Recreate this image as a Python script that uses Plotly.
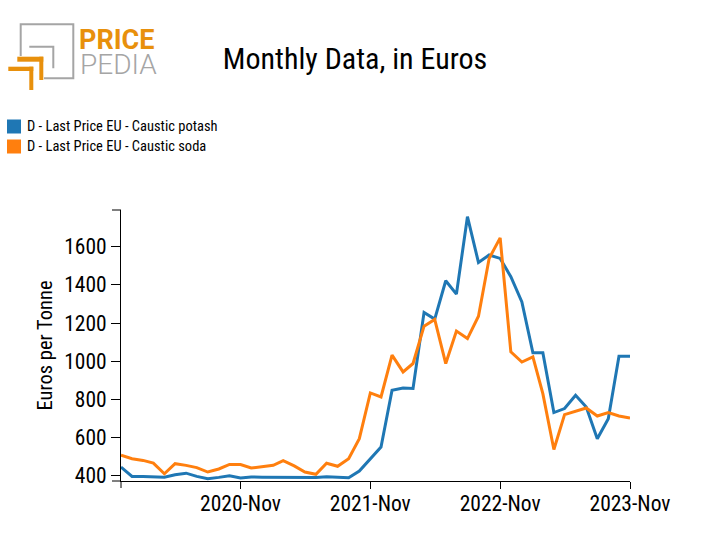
import plotly.graph_objects as go

months = [f"{y}-{m:02d}-01" for y in range(2019, 2024) for m in range(1, 13)]
months = months[months.index("2019-12-01"):months.index("2023-11-01") + 1]

potash = [445, 396, 396, 395, 392, 405, 413, 396, 384, 391, 400, 388,
          393, 392, 391, 391, 391, 391, 391, 394, 392, 389, 424, 489,
          550, 848, 860, 857, 1256, 1221, 1422, 1352, 1758, 1518, 1557, 1539,
          1443, 1311, 1044, 1044, 731, 752, 822, 760, 594, 699, 1026, 1026]
soda = [507, 489, 480, 466, 410, 463, 454, 442, 419, 435, 459, 458,
        440, 449, 454, 479, 451, 419, 407, 465, 449, 489, 594, 834,
        813, 1032, 944, 988, 1184, 1219, 988, 1158, 1119, 1236, 1539, 1647,
        1049, 996, 1023, 830, 537, 720, 738, 755, 713, 731, 713, 702]

series_names = ["D - Last Price EU - Caustic potash", "D - Last Price EU - Caustic soda"]
series_colors = ["#1f77b4", "#ff7f0e"]
tick_vals = ["2020-11-01", "2021-11-01", "2022-11-01", "2023-11-01"]
tick_text = ["2020-Nov", "2021-Nov", "2022-Nov", "2023-Nov"]

FONT = "Liberation Sans Narrow, Roboto Condensed, Roboto, sans-serif"
W, H = 712, 555
L, R, T, B = 121, 630, 210, 481


def px(x):
    return (x - L) / (R - L)


def py(y):
    return (B - y) / (B - T)


fig = go.Figure()
for name, vals, col in zip(series_names, [potash, soda], series_colors):
    fig.add_trace(go.Scatter(x=months, y=vals, mode="lines", name=name,
                             line=dict(color=col, width=3), showlegend=False))

shapes = []
annotations = []

# manual legend
for i, (name, col) in enumerate(zip(series_names, series_colors)):
    top = 119.5 + i * 20
    shapes.append(dict(type="rect", xref="paper", yref="paper",
                       x0=px(7), x1=px(21), y0=py(top), y1=py(top + 14),
                       fillcolor=col, line=dict(width=0)))
    annotations.append(dict(text=name, xref="paper", yref="paper",
                            x=px(25), y=py(top + 7), xanchor="left", yanchor="middle",
                            showarrow=False, font=dict(family=FONT, size=14.5, color="#000")))

# outer ticks (D3 style)
shapes += [
    dict(type="line", xref="paper", yref="paper", x0=px(112), x1=0, y0=1, y1=1, line=dict(color="black", width=1)),
    dict(type="line", xref="paper", yref="paper", x0=px(112), x1=0, y0=0, y1=0, line=dict(color="black", width=1)),
    dict(type="line", xref="paper", yref="paper", x0=0, x1=0, y0=0, y1=py(488), line=dict(color="black", width=1)),
]

# logo
gray = "#a5a5a5"
orange = "#e8900c"
shapes.append(dict(type="path", xref="paper", yref="paper",
                   path=f"M {px(20.7)},{py(56)} L {px(20.7)},{py(24.3)} L {px(73.3)},{py(24.3)} "
                        f"L {px(73.3)},{py(78.3)} L {px(44)},{py(78.3)}",
                   line=dict(color=gray, width=2)))
shapes.append(dict(type="path", xref="paper", yref="paper",
                   path=f"M {px(29.3)},{py(46.7)} L {px(53.3)},{py(46.7)} L {px(53.3)},{py(68.3)}",
                   line=dict(color=gray, width=2)))
for (hx0, hx1, hy0, hy1, vx0, vx1, vy1) in [(17.3, 43.3, 56.7, 61.7, 39.3, 43.3, 80),
                                             (8.3, 33.3, 66.7, 71.0, 29.3, 33.3, 90)]:
    shapes.append(dict(type="rect", xref="paper", yref="paper", x0=px(hx0), x1=px(hx1),
                       y0=py(hy0), y1=py(hy1), fillcolor=orange, line=dict(width=0)))
    shapes.append(dict(type="rect", xref="paper", yref="paper", x0=px(vx0), x1=px(vx1),
                       y0=py(hy0), y1=py(vy1), fillcolor=orange, line=dict(width=0)))
annotations.append(dict(text="<b>PRICE</b>", xref="paper", yref="paper", x=px(77), y=py(39.5),
                        xanchor="left", yanchor="middle", showarrow=False,
                        font=dict(family="Roboto, sans-serif", size=27, color=orange)))
annotations.append(dict(text="PEDIA", xref="paper", yref="paper", x=px(78), y=py(64.5),
                        xanchor="left", yanchor="middle", showarrow=False,
                        font=dict(family="Roboto, sans-serif", size=28, color=gray, weight=300)))

fig.update_layout(
    width=W, height=H,
    margin=dict(l=L, r=W - R, t=T, b=H - B, pad=0),
    plot_bgcolor="white", paper_bgcolor="white",
    font=dict(family=FONT, color="black"),
    title=dict(text="Monthly Data, in Euros", x=355 / W, y=1 - 58 / H, xanchor="center", yanchor="middle",
               font=dict(family=FONT, size=30, color="black")),
    shapes=shapes, annotations=annotations,
    xaxis=dict(range=[months[0], months[-1]], tickvals=tick_vals, ticktext=tick_text,
               showgrid=False, zeroline=False, showline=True, linecolor="black", linewidth=1,
               ticks="outside", ticklen=7, tickcolor="black", tickwidth=1, ticklabelstandoff=-4,
               tickfont=dict(family=FONT, size=21.5, color="black")),
    yaxis=dict(range=[372, 1793], tickvals=[400, 600, 800, 1000, 1200, 1400, 1600],
               showgrid=False, zeroline=False, showline=True, linecolor="black", linewidth=1,
               ticks="outside", ticklen=9, tickcolor="black", tickwidth=1,
               tickfont=dict(family=FONT, size=21.5, color="black"),
               title=dict(text="Euros per Tonne", font=dict(family=FONT, size=20.5, color="black"), standoff=6)),
)

fig.write_html("out.html")
